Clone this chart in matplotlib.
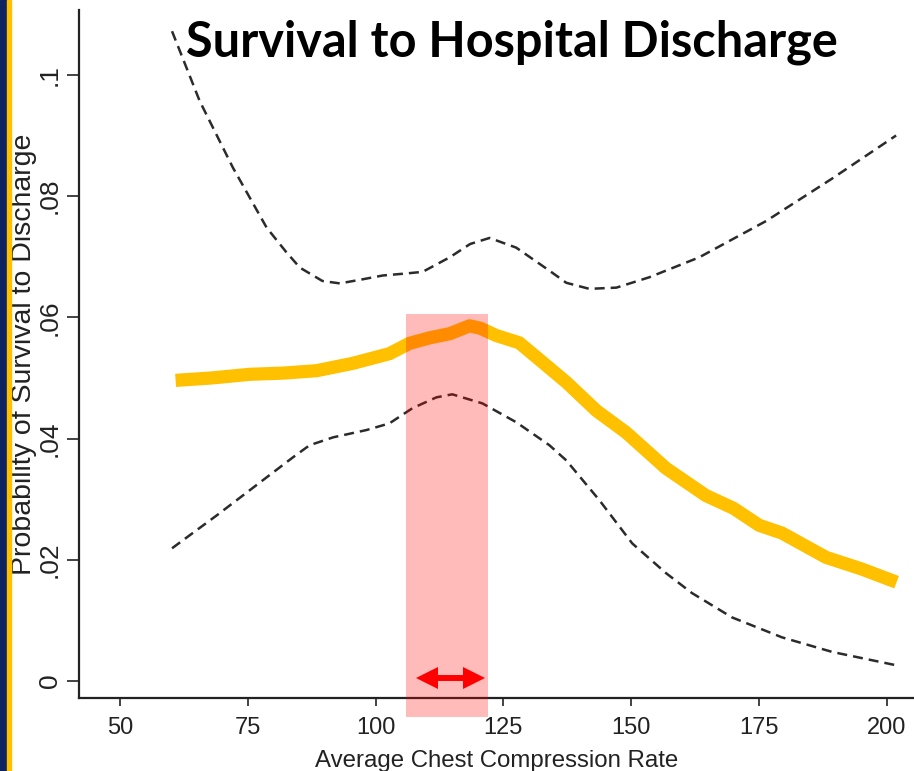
import matplotlib
matplotlib.use('Agg')
import matplotlib.pyplot as plt
from matplotlib.patches import Rectangle

# compression rate (x) and survival probability (y)
fit_x = [60.9, 68.0, 75.4, 82.0, 88.5, 95.5, 102.7, 106.6, 110.5, 114.5, 118.4, 120.5, 123.6, 128.1,
         132.5, 137.3, 143.2, 149.0, 156.8, 164.6, 170.0, 175.0, 179.5, 188.1, 195.0, 201.9]
fit_y = [0.0496, 0.0500, 0.0506, 0.0508, 0.0512, 0.0524, 0.0540, 0.0557, 0.0566, 0.0573, 0.0586, 0.0582,
         0.0570, 0.0558, 0.0527, 0.0493, 0.0446, 0.0410, 0.0351, 0.0306, 0.0285, 0.0257, 0.0244, 0.0204,
         0.0185, 0.0163]

upper_x = [60.2, 65.6, 72.1, 78.7, 82.5, 85.2, 89.6, 93.0, 97.0, 101.4, 105.5, 109.2, 114.5, 118.5,
           122.3, 127.5, 134.0, 137.3, 141.8, 147.1, 153.5, 163.3, 176.4, 189.3, 201.8]
upper_y = [0.1072, 0.0957, 0.0847, 0.0748, 0.0708, 0.0682, 0.0660, 0.0656, 0.0662, 0.0669, 0.0672,
           0.0675, 0.0699, 0.0721, 0.0731, 0.0715, 0.0677, 0.0657, 0.0647, 0.0649, 0.0666, 0.0699,
           0.0759, 0.0829, 0.0900]

lower_x = [60.2, 68.9, 78.7, 84.0, 87.1, 91.7, 98.2, 102.7, 107.2, 111.9, 115.0, 120.9, 127.5,
           134.0, 137.3, 143.8, 150.2, 156.8, 161.9, 169.7, 179.5, 189.3, 201.8]
lower_y = [0.0219, 0.0273, 0.0336, 0.0370, 0.0389, 0.0402, 0.0414, 0.0425, 0.0450, 0.0468, 0.0473,
           0.0458, 0.0427, 0.0389, 0.0364, 0.0298, 0.0227, 0.0178, 0.0145, 0.0105, 0.0072, 0.0048,
           0.0026]

x_ticks = [50, 75, 100, 125, 150, 175, 200]
y_ticks = [0, 0.02, 0.04, 0.06, 0.08, 0.1]
y_tick_labels = ['0', '.02', '.04', '.06', '.08', '.1']

# recommended rate band and its arrow
band_lo, band_hi = 106, 122
band_top, band_bottom = 0.0606, -0.0059
arrow_lo, arrow_hi, arrow_y = 110.0, 119.3, 0.0005

fig = plt.figure(figsize=(9.14, 7.71), dpi=100)
ax = fig.add_axes([0.0864, 0.0947, 0.9136, 0.8923])

dash = dict(color='#2b2b2b', lw=1.8, ls=(0, (4.0, 2.4)), solid_joinstyle='round')
ax.plot(upper_x, upper_y, **dash)
ax.plot(lower_x, lower_y, **dash)
ax.plot(fit_x, fit_y, color='#FFC000', lw=9.5, solid_capstyle='butt', solid_joinstyle='round')

ax.fill_between([band_lo, band_hi], band_bottom, band_top, color='red', alpha=0.27,
                lw=0, zorder=5, clip_on=False)
ax.plot([arrow_lo, arrow_hi], [arrow_y, arrow_y], color='red', lw=4.3, zorder=6, clip_on=False)
ax.plot([arrow_lo], [arrow_y], marker='<', ms=16, color='red', mew=0, zorder=6, clip_on=False)
ax.plot([arrow_hi], [arrow_y], marker='>', ms=16, color='red', mew=0, zorder=6, clip_on=False)

ax.set_xlim(42, 205.3)
ax.set_ylim(-0.0028, 0.1107)
ax.set_xticks(x_ticks)
ax.set_yticks(y_ticks)
ax.set_yticklabels(y_tick_labels, rotation=90, va='center')

font = 'Liberation Sans'
for lab in ax.get_xticklabels():
    lab.set_fontfamily(font)
    lab.set_fontsize(17)
for lab in ax.get_yticklabels():
    lab.set_fontfamily(font)
    lab.set_fontsize(19)
ax.tick_params(axis='x', length=6, width=1.2, pad=8, colors='#222222')
ax.tick_params(axis='y', length=8.5, width=1.2, pad=4, colors='#222222')

ax.set_xlabel('Average Chest Compression Rate', family=font, size=17.3, color='#222222')
ax.set_ylabel('Probability of Survival to Discharge', family=font, size=20.5, color='#222222')
ax.xaxis.set_label_coords(0.5, -0.091)
ax.xaxis.label.set_va('center')
ax.yaxis.set_label_coords(-0.066, 0.5)
ax.yaxis.label.set_va('center')

for side in ['top', 'right']:
    ax.spines[side].set_visible(False)
for side in ['left', 'bottom']:
    ax.spines[side].set_linewidth(1.6)
    ax.spines[side].set_color('#222222')

fig.text(0.56, 0.945, 'Survival to Hospital Discharge', ha='center', va='center',
         fontsize=35, fontweight='bold', family='Lato')

# slide border strip on the left
fig.patches.append(Rectangle((0, 0), 7 / 914, 1, transform=fig.transFigure,
                             color='#0D2461', zorder=10))
fig.patches.append(Rectangle((7 / 914, 0), 4 / 914, 1, transform=fig.transFigure,
                             color='#FFC000', zorder=10))

fig.savefig('out.png', dpi=100)
